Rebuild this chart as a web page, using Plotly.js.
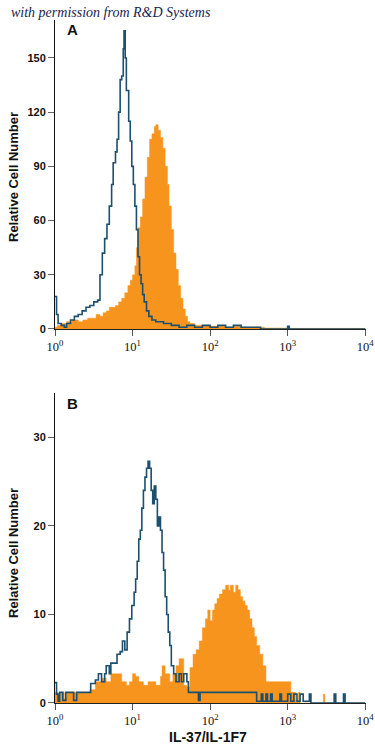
<!DOCTYPE html>
<html>
<head>
<meta charset="utf-8">
<script src="https://cdn.plot.ly/plotly-3.0.1.min.js"></script>
<style>html,body{margin:0;padding:0;background:#fff;}#chart{width:375px;height:752px;}</style>
</head>
<body>
<div id="chart"></div>
<script>
// ---- Data (x given as log10 of fluorescence intensity, y = relative cell number) ----
const aOrangeLog = [0.00,0.03,0.08,0.15,0.22,0.30,0.36,0.42,0.48,0.53,0.58,0.62,0.66,0.70,0.74,0.78,0.82,0.86,0.90,0.94,0.97,1.00,1.03,1.05,1.07,1.10,1.13,1.16,1.19,1.22,1.25,1.28,1.30,1.33,1.36,1.39,1.42,1.45,1.47,1.50,1.53,1.56,1.59,1.62,1.65,1.68,1.71,1.74,1.80,1.90,2.00,2.10,2.20,2.30,2.40,2.50,2.60,2.70,3.00,3.03,4.00];
const aOrangeVal = [1,2,3,4,5,4,5,6,6,8,7,9,10,12,12,13,15,17,20,24,27,30,35,45,56,62,72,84,95,105,108,112,113,110,106,100,90,80,68,55,42,33,24,17,11,7,4,3,2,2,1.5,1.5,1,1.5,1,1,1,0.5,1,0.3,0.3];

const aBlueLog = [0.00,0.02,0.04,0.08,0.12,0.15,0.20,0.25,0.30,0.35,0.40,0.45,0.50,0.55,0.58,0.61,0.64,0.67,0.70,0.73,0.75,0.78,0.80,0.82,0.84,0.86,0.88,0.89,0.905,0.92,0.95,0.97,0.99,1.01,1.03,1.05,1.07,1.09,1.11,1.13,1.15,1.18,1.21,1.25,1.30,1.40,1.50,1.60,1.70,1.80,1.90,2.00,2.10,2.20,2.30,2.40,2.50,2.60,2.65,3.00,3.02,4.00];
const aBlueVal = [18,8,3,2,1,3,5,7,8,10,12,13,15,16,30,42,50,58,68,80,92,98,105,120,138,140,155,165,150,132,115,104,90,80,68,55,40,30,25,19,15,10,7,5,4,3,2,1,2,1,2,1,2,1,2,1,1,1,0,1.5,0,0];

const bOrangeLog = [0.00,0.04,0.07,0.12,0.15,0.30,0.45,0.52,0.60,0.66,0.72,0.78,0.86,0.92,0.96,1.00,1.04,1.08,1.14,1.20,1.30,1.36,1.38,1.42,1.48,1.52,1.56,1.60,1.66,1.70,1.74,1.78,1.82,1.86,1.90,1.94,1.97,2.00,2.03,2.06,2.09,2.12,2.16,2.20,2.24,2.26,2.30,2.33,2.36,2.39,2.42,2.45,2.48,2.51,2.54,2.57,2.60,2.64,2.68,2.72,3.04,3.10,3.14,3.16,3.46,3.48,3.60,3.62,4.00];
const bOrangeVal = [1.2,0.4,1.2,0.5,1.2,1.2,1.5,2.4,2.8,2.4,3.3,3.3,2.4,2.0,2.4,3.3,3.0,2.4,2.0,2.4,2.0,3.0,4.2,3.3,2.4,3.3,4.2,5.0,2.0,1.8,4.0,5.5,6.0,7.0,8.5,9.5,10.5,9.3,10.5,11.2,11.8,12.3,12.8,13.3,12.7,13.3,12.5,13.3,12.8,12.0,11.5,11.0,10.5,9.5,8.5,7.5,6.5,5.5,4.2,2.4,1.2,0.3,1.2,0,1,0,1,0,0];

const bBlueLog = [0.00,0.02,0.04,0.06,0.10,0.14,0.24,0.28,0.42,0.46,0.52,0.56,0.60,0.64,0.66,0.70,0.72,0.76,0.80,0.84,0.87,0.90,0.93,0.96,0.99,1.02,1.04,1.06,1.08,1.10,1.12,1.14,1.16,1.18,1.20,1.22,1.24,1.26,1.28,1.30,1.32,1.34,1.36,1.38,1.40,1.42,1.44,1.46,1.48,1.50,1.53,1.56,1.60,1.63,1.66,1.70,1.72,1.85,1.87,2.60,2.66,2.68,2.72,2.74,2.78,2.80,2.90,2.92,3.00,3.04,3.08,3.12,3.16,3.20,3.28,3.30,3.60,3.62,3.72,3.74,4.00];
const bBlueVal = [2.3,1,0.2,1.2,0.3,1.2,0.3,1.2,1.2,2.2,2.6,3.3,2.4,3.3,4.2,3.3,4.5,4.5,5.5,5.8,7,6,8,9.5,11,12.5,14,16,18.5,19.5,22,24,25.5,26.5,27.3,26.5,24,22.5,24.5,23,20,21,19.5,17,15,12,10,8,6.5,4.2,3.3,2.4,3.3,2.4,3.3,2.4,1.2,0.3,1.2,0.2,1,0.2,1,0.2,1,0.2,1,0.2,1,0.2,1,0.2,1,0.2,1,0,1,0,1,0,0];

const decadeVals = [1,10,100,1000,10000];
const decadeText = ['10<sup>0</sup>','10<sup>1</sup>','10<sup>2</sup>','10<sup>3</sup>','10<sup>4</sup>'];
const minorMultipliers = [2,3,4,5,6,7,8,9];
const yTicksA = [0,30,60,90,120,150];
const yTicksB = [0,10,20,30];

// ---- Build ----
const ORANGE = '#F7941D';
const BLUE = '#1D4F6E';
const toX = arr => arr.map(v => Math.pow(10, v));

const minorVals = [];
for (let d = 0; d < decadeVals.length - 1; d++) {
  for (const m of minorMultipliers) minorVals.push(decadeVals[d] * m);
}

const traces = [
  {x: toX(aOrangeLog), y: aOrangeVal, xaxis: 'x', yaxis: 'y', type: 'scatter', mode: 'lines',
   line: {shape: 'hv', color: ORANGE, width: 0.5}, fill: 'tozeroy', fillcolor: ORANGE, hoverinfo: 'skip'},
  {x: toX(aBlueLog), y: aBlueVal, xaxis: 'x', yaxis: 'y', type: 'scatter', mode: 'lines',
   line: {shape: 'hv', color: BLUE, width: 1.6}, hoverinfo: 'skip'},
  {x: toX(bOrangeLog), y: bOrangeVal, xaxis: 'x2', yaxis: 'y2', type: 'scatter', mode: 'lines',
   line: {shape: 'hv', color: ORANGE, width: 0.5}, fill: 'tozeroy', fillcolor: ORANGE, hoverinfo: 'skip'},
  {x: toX(bBlueLog), y: bBlueVal, xaxis: 'x2', yaxis: 'y2', type: 'scatter', mode: 'lines',
   line: {shape: 'hv', color: BLUE, width: 1.6}, hoverinfo: 'skip'}
];

const tickFontX = {family: 'Liberation Serif, DejaVu Serif, serif', size: 12.5, color: '#111'};
const tickFontY = {family: 'Liberation Sans, Arial, sans-serif', size: 11, color: '#111', weight: 'bold'};

function xAxis(anchor) {
  return {type: 'log', range: [0, 4.01], anchor: anchor, domain: [0, 1],
    tickmode: 'array', tickvals: decadeVals, ticktext: decadeText,
    ticks: 'outside', ticklen: 6, tickwidth: 1, tickcolor: '#555',
    showline: true, linecolor: '#222', linewidth: 1, showgrid: false, zeroline: false,
    tickfont: tickFontX, fixedrange: true};
}
function minorAxis(anchor, over) {
  return {type: 'log', range: [0, 4.01], anchor: anchor, overlaying: over, side: 'bottom',
    tickmode: 'array', tickvals: minorVals, showticklabels: false,
    ticks: 'outside', ticklen: 5, tickwidth: 1, tickcolor: '#666',
    showline: false, showgrid: false, zeroline: false, fixedrange: true};
}
function yAxis(anchor, domain, range, tv) {
  return {anchor: anchor, domain: domain, range: range, tickmode: 'array', tickvals: tv,
    ticks: 'outside', ticklen: 6, tickwidth: 1, tickcolor: '#666',
    showline: true, linecolor: '#111', linewidth: 1, showgrid: false, zeroline: false,
    tickfont: tickFontY, fixedrange: true};
}

const W = 311, H = 683, L = 55, T = 20;
const px = v => (v - L) / W;
const py = v => (T + H - v) / H;

const layout = {
  width: 375, height: 752,
  margin: {l: L, r: 9, t: T, b: 49},
  paper_bgcolor: '#fff', plot_bgcolor: '#fff',
  showlegend: false,
  xaxis: xAxis('y'),
  yaxis: yAxis('x', [0.5476, 1], [0, 171], yTicksA),
  xaxis2: xAxis('y2'),
  yaxis2: yAxis('x2', [0, 0.4539], [0, 35], yTicksB),
  xaxis3: minorAxis('y', 'x'),
  xaxis4: minorAxis('y2', 'x2'),
  annotations: [
    {text: '<i>with permission from R&amp;D Systems</i>', xref: 'paper', yref: 'paper',
     x: px(9), y: py(13), xanchor: 'left', yanchor: 'middle', showarrow: false,
     font: {family: 'Liberation Serif, DejaVu Serif, serif', size: 14, color: '#1a2550'}},
    {text: '<b>A</b>', xref: 'paper', yref: 'paper', x: px(72), y: py(30), xanchor: 'center', yanchor: 'middle',
     showarrow: false, font: {family: 'Liberation Sans, Arial, sans-serif', size: 15, color: '#111'}},
    {text: '<b>B</b>', xref: 'paper', yref: 'paper', x: px(72), y: py(403), xanchor: 'center', yanchor: 'middle',
     showarrow: false, font: {family: 'Liberation Sans, Arial, sans-serif', size: 15, color: '#111'}},
    {text: '<b>Relative Cell Number</b>', xref: 'paper', yref: 'paper', x: px(13), y: py(177), textangle: -90,
     xanchor: 'center', yanchor: 'middle', showarrow: false,
     font: {family: 'Liberation Sans Narrow, Arial Narrow, Liberation Sans, sans-serif', size: 13, color: '#111'}},
    {text: '<b>Relative Cell Number</b>', xref: 'paper', yref: 'paper', x: px(13), y: py(553), textangle: -90,
     xanchor: 'center', yanchor: 'middle', showarrow: false,
     font: {family: 'Liberation Sans Narrow, Arial Narrow, Liberation Sans, sans-serif', size: 13, color: '#111'}},
    {text: '<b>IL-37/IL-1F7</b>', xref: 'paper', yref: 'paper', x: px(208), y: py(737),
     xanchor: 'center', yanchor: 'middle', showarrow: false,
     font: {family: 'Liberation Sans, Arial, sans-serif', size: 14, color: '#111'}}
  ]
};

Plotly.newPlot('chart', traces, layout, {staticPlot: true, displayModeBar: false});
</script>
</body>
</html>
